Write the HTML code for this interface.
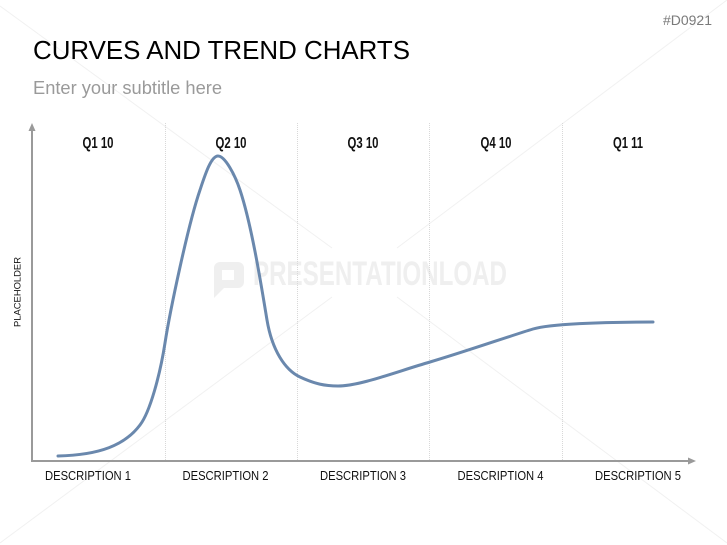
<!DOCTYPE html>
<html><head><meta charset="utf-8"><style>
html,body{margin:0;padding:0;background:#fff;}
svg{display:block;}
</style></head><body>
<svg width="727" height="545" viewBox="0 0 727 545" xmlns="http://www.w3.org/2000/svg">
<rect width="727" height="545" fill="#fff"/>
<!-- faint watermark diagonals -->
<g stroke="#f1f1f1" stroke-width="1" fill="none">
<line x1="0" y1="6" x2="332" y2="248"/>
<line x1="397" y1="297" x2="727" y2="543"/>
<line x1="727" y1="0" x2="397" y2="248"/>
<line x1="332" y1="297" x2="0" y2="543"/>
</g>
<!-- watermark -->
<g fill="#efefef">
<path d="M214,262 h24 a6,6 0 0 1 6,6 v14 a6,6 0 0 1 -6,6 h-14 l-10,10 v-30 a6,6 0 0 1 6,-6 z M222,270 v10 h12 v-10 z" fill-rule="evenodd"/>
<text x="253" y="285" font-family="Liberation Sans, sans-serif" font-weight="bold" font-size="34" textLength="254" lengthAdjust="spacingAndGlyphs">PRESENTATIONLOAD</text>
</g>
<!-- header -->
<text x="663" y="25" font-family="Liberation Sans, sans-serif" font-size="14" fill="#7a7a7a" textLength="49" lengthAdjust="spacingAndGlyphs">#D0921</text>
<text x="33" y="59" font-family="Liberation Sans, sans-serif" font-size="26" fill="#000" textLength="377" lengthAdjust="spacingAndGlyphs">CURVES AND TREND CHARTS</text>
<text x="33" y="94" font-family="Liberation Sans, sans-serif" font-size="18" fill="#9a9a9a" textLength="189" lengthAdjust="spacingAndGlyphs">Enter your subtitle here</text>
<!-- gridlines -->
<g stroke="#d8d8d8" stroke-width="1" stroke-dasharray="1,1">
<line x1="165.5" y1="123" x2="165.5" y2="460"/>
<line x1="297.5" y1="123" x2="297.5" y2="460"/>
<line x1="429.5" y1="123" x2="429.5" y2="460"/>
<line x1="562.5" y1="123" x2="562.5" y2="460"/>
</g>
<!-- axes -->
<g stroke="#9a9a9a" stroke-width="2" fill="none">
<line x1="32" y1="130" x2="32" y2="461"/>
<line x1="31" y1="461" x2="689" y2="461"/>
</g>
<polygon points="32,123 28.5,131 35.5,131" fill="#9a9a9a"/>
<polygon points="696,461 688,457.5 688,464.5" fill="#9a9a9a"/>
<!-- quarter labels -->
<g font-family="Liberation Sans, sans-serif" font-weight="bold" font-size="16" fill="#111" text-anchor="middle">
<text x="98" y="148" textLength="31" lengthAdjust="spacingAndGlyphs">Q1 10</text>
<text x="231" y="148" textLength="31" lengthAdjust="spacingAndGlyphs">Q2 10</text>
<text x="363" y="148" textLength="31" lengthAdjust="spacingAndGlyphs">Q3 10</text>
<text x="496" y="148" textLength="31" lengthAdjust="spacingAndGlyphs">Q4 10</text>
<text x="628" y="148" textLength="30" lengthAdjust="spacingAndGlyphs">Q1 11</text>
</g>
<!-- description labels -->
<g font-family="Liberation Sans, sans-serif" font-size="12.5" fill="#111" text-anchor="middle">
<text x="88" y="480" textLength="86" lengthAdjust="spacingAndGlyphs">DESCRIPTION 1</text>
<text x="225.5" y="480" textLength="86" lengthAdjust="spacingAndGlyphs">DESCRIPTION 2</text>
<text x="363" y="480" textLength="86" lengthAdjust="spacingAndGlyphs">DESCRIPTION 3</text>
<text x="500.5" y="480" textLength="86" lengthAdjust="spacingAndGlyphs">DESCRIPTION 4</text>
<text x="638" y="480" textLength="86" lengthAdjust="spacingAndGlyphs">DESCRIPTION 5</text>
</g>
<text transform="translate(20.5,292) rotate(-90)" font-family="Liberation Sans, sans-serif" font-size="9.5" fill="#111" text-anchor="middle" textLength="70" lengthAdjust="spacingAndGlyphs">PLACEHOLDER</text>
<!-- curve -->
<path fill="none" stroke="#6a88ad" stroke-width="3" stroke-linecap="round" stroke-linejoin="round"
d="M58,456 C100,455 125,445 140,425 C150,412 160,375 165,343 C170,311 188,225 200,190 C205,175 211,156 218,156 C225,156 235,175 240,190 C252,226 262,290 267,320 C272,350 285,370 300,377 C315,384 325,386 338,386 C360,386 397,371.5 430,362 C462.5,352.5 510,336 533,329 C550,324 600,322 653,322"/>
</svg>
</body></html>
